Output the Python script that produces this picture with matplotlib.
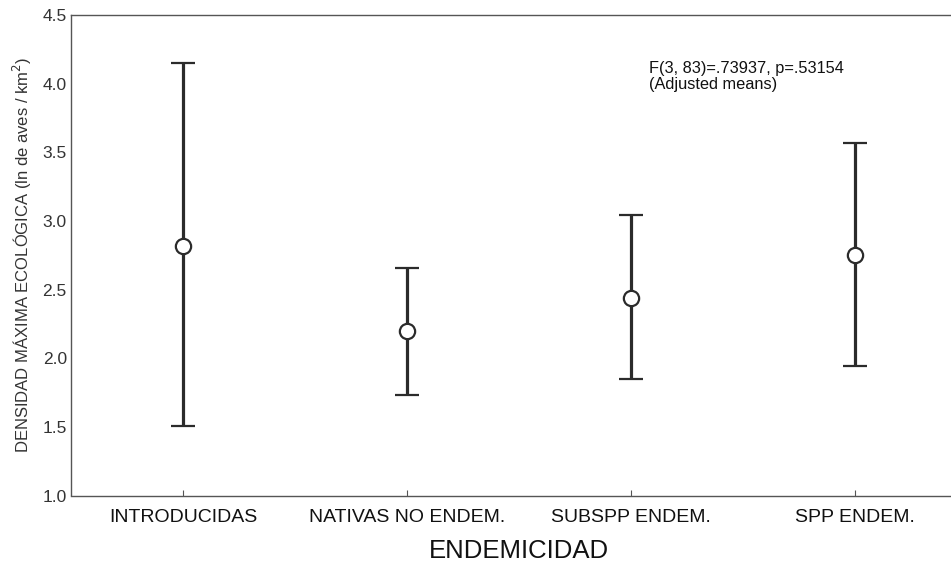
import matplotlib
matplotlib.use("Agg")
from matplotlib import pyplot as plt
import numpy as np

plt.rcParams["font.family"] = ["Liberation Sans", "DejaVu Sans"]

categorias = ["INTRODUCIDAS", "NATIVAS NO ENDEM.", "SUBSPP ENDEM.", "SPP ENDEM."]
medias = [2.82, 2.20, 2.44, 2.75]
limite_sup = [4.15, 2.655, 3.04, 3.565]
limite_inf = [1.505, 1.735, 1.85, 1.94]

x = np.arange(len(categorias))
medias = np.array(medias)
err = [medias - np.array(limite_inf), np.array(limite_sup) - medias]

fig = plt.figure(figsize=(9.51, 5.62), dpi=100)
ax = fig.add_axes([71 / 951, 66.5 / 562, 896 / 951, 480.5 / 562])

ax.errorbar(x, medias, yerr=err, fmt="o", color="#2b2b2b", ecolor="#2b2b2b",
            elinewidth=2.3, capsize=8.5, capthick=2.3,
            markersize=11, markerfacecolor="white", markeredgecolor="#2b2b2b",
            markeredgewidth=1.6, zorder=3)

ax.set_xlim(-0.5, 3.5)
ax.set_ylim(1.0, 4.5)
ax.set_yticks(np.arange(1.0, 4.51, 0.5))
ax.set_yticklabels([f"{v:.1f}" for v in np.arange(1.0, 4.51, 0.5)], fontsize=12.5, color="#333333")
ax.set_xticks(x)
ax.set_xticklabels(categorias, fontsize=14, color="#111111")
ax.tick_params(axis="x", direction="in", length=4, width=0.8, pad=10, colors="#555555", labelcolor="#111111")
ax.tick_params(axis="y", length=0, pad=3)

for s in ax.spines.values():
    s.set_color("#555555")
    s.set_linewidth(1.0)

ax.set_xlabel("ENDEMICIDAD", fontsize=18.5, labelpad=9, color="#111111")
ax.set_ylabel("DENSIDAD MÁXIMA ECOLÓGICA (ln de aves / km$^2$)", fontsize=12, color="#333333", labelpad=6)

ax.text(2.08, 4.165, "F(3, 83)=.73937, p=.53154\n(Adjusted means)", fontsize=11.8,
        va="top", ha="left", color="#111111", linespacing=1.1)

fig.savefig("out.png", dpi=100)
